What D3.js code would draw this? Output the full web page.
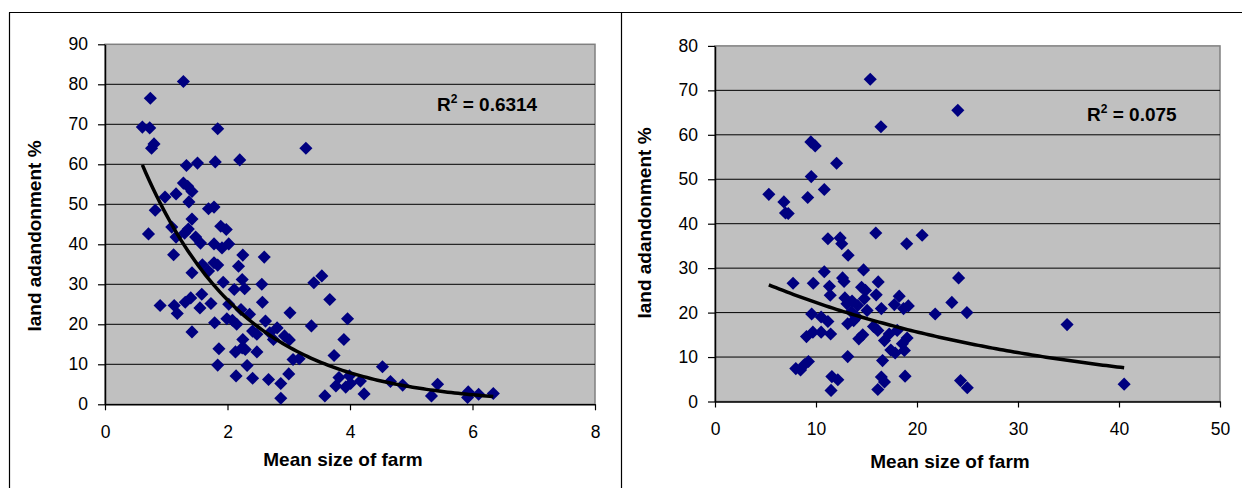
<!DOCTYPE html>
<html>
<head>
<meta charset="utf-8">
<script src="https://cdn.jsdelivr.net/npm/d3@7"></script>
<style>
  body { margin: 0; background: #fff; }
  svg { display: block; font-family: "Liberation Sans", Arial, sans-serif; }
</style>
</head>
<body>
<svg id="chart" width="1242" height="488"></svg>
<script>
// left panel data (mean farm size, % land abandonment)
const farmSizeA = [1.28,0.74,0.61,0.73,1.84,0.80,0.76,3.28,2.20,1.33,
  1.51,1.80,1.28,1.35,1.42,1.16,0.98,1.37,0.82,1.69,
  1.78,1.42,1.89,1.98,1.09,1.36,1.30,0.71,1.16,1.48,
  1.56,1.78,1.91,2.02,1.12,2.25,2.60,1.59,1.78,1.84,
  2.18,1.42,1.69,3.54,3.41,1.93,2.56,2.24,2.11,2.28,
  3.67,1.31,1.40,1.58,0.90,1.13,1.55,1.73,2.57,2.02,
  2.22,1.18,3.02,2.36,3.96,1.99,2.08,2.15,1.79,2.62,
  3.37,1.42,2.81,2.41,2.48,2.69,2.75,3.90,2.93,3.01,
  2.25,2.24,1.86,2.13,2.48,2.29,3.74,3.07,3.17,4.53,
  1.84,2.32,3.00,2.14,2.41,2.67,2.87,3.82,3.99,3.77,
  3.93,4.01,4.17,4.66,4.86,4.23,3.59,2.87,5.43,5.33,
  5.93,5.92,6.10,6.34];
const abandonA = [80.7,76.5,69.3,69.1,68.9,65.1,64.0,64.0,61.1,59.7,
  60.3,60.6,55.3,54.5,53.2,52.6,51.8,50.6,48.5,48.9,
  49.3,46.3,44.5,43.7,44.3,43.8,42.8,42.6,41.8,41.8,
  40.3,40.1,39.1,40.1,37.4,37.3,36.8,34.9,35.4,34.8,
  34.5,32.9,33.3,32.1,30.4,30.5,30.0,31.2,28.7,28.9,
  26.2,25.5,26.6,27.5,24.7,24.7,24.1,25.2,25.5,25.0,
  23.7,22.7,22.9,22.5,21.4,21.4,21.0,20.0,20.4,20.8,
  19.6,18.1,19.1,18.3,17.5,17.9,16.2,16.2,17.1,16.1,
  16.2,14.1,13.9,13.1,13.1,13.7,12.2,11.2,11.4,9.4,
  9.8,9.7,7.6,7.1,6.5,6.2,5.2,6.7,7.1,4.6,
  4.3,5.2,5.8,5.7,4.8,2.6,2.1,1.5,5.0,2.1,
  3.1,1.7,2.5,2.7];

// right panel data
const farmSizeB = [15.37,24.04,16.43,9.49,9.92,12.04,9.53,10.82,5.33,9.18,
  6.82,6.98,7.25,15.92,20.51,11.18,12.39,12.55,18.98,13.18,
  14.71,10.82,24.12,12.63,12.78,7.73,9.73,16.16,11.33,14.51,
  14.90,15.96,11.41,18.24,12.86,14.78,13.57,23.45,13.06,14.12,
  17.76,19.14,18.67,16.47,15.06,24.94,13.49,21.80,9.57,10.51,
  14.04,11.18,13.73,13.14,34.86,15.69,18.04,16.12,9.69,10.51,
  11.45,17.25,9.06,14.63,14.24,19.02,16.78,18.55,17.41,17.84,
  18.75,13.14,16.59,9.25,8.86,8.00,8.47,18.82,11.57,12.16,
  16.47,16.78,16.12,11.49,24.31,24.98,40.51];
const abandonB = [72.5,65.5,61.8,58.4,57.5,53.6,50.6,47.7,46.6,45.9,
  44.9,42.4,42.3,37.9,37.4,36.6,36.8,35.5,35.5,32.9,
  29.6,29.2,27.8,27.8,27.0,26.6,26.6,26.9,25.9,25.7,
  25.0,24.0,23.9,23.7,23.3,23.1,22.6,22.3,22.0,21.6,
  21.8,21.5,20.9,20.9,20.5,20.0,20.2,19.7,19.7,19.0,
  19.0,18.0,18.2,17.5,17.3,16.9,16.0,16.0,15.6,15.6,
  15.2,15.2,14.6,15.0,14.1,14.3,13.7,13.0,11.6,10.9,
  11.5,10.1,9.2,9.0,8.3,7.4,7.1,5.7,5.6,4.9,
  5.5,4.4,2.7,2.5,4.7,3.1,3.9];

const xTicksA = [0, 2, 4, 6, 8];
const yTicksA = [0, 10, 20, 30, 40, 50, 60, 70, 80, 90];
const xTicksB = [0, 10, 20, 30, 40, 50];
const yTicksB = [0, 10, 20, 30, 40, 50, 60, 70, 80];
const r2Labels = ["0.6314", "0.075"];
const xTitle = "Mean size of farm";
const yTitle = "land adandonment %";

const svg = d3.select("#chart");

// outer frames
const frame = svg.append("g").attr("stroke", "#000").attr("stroke-width", 1.2).attr("fill", "none");
frame.append("line").attr("x1", 9).attr("x2", 1242).attr("y1", 12.5).attr("y2", 12.5);
frame.append("line").attr("x1", 9.5).attr("x2", 9.5).attr("y1", 12.5).attr("y2", 488);
frame.append("line").attr("x1", 621.5).attr("x2", 621.5).attr("y1", 12.5).attr("y2", 488);

// exponential trend, least squares on ln(y) like a spreadsheet trendline
function expFit(xs, ys) {
  const ly = ys.map(Math.log);
  const mx = d3.mean(xs), my = d3.mean(ly);
  let sxy = 0, sxx = 0;
  xs.forEach((x, i) => { sxy += (x - mx) * (ly[i] - my); sxx += (x - mx) * (x - mx); });
  const b = sxy / sxx;
  const a = Math.exp(my - b * mx);
  return x => a * Math.exp(b * x);
}

function drawPanel(cfg) {
  const g = svg.append("g");
  const x = d3.scaleLinear().domain(d3.extent(cfg.xTicks)).range([cfg.left, cfg.right]);
  const y = d3.scaleLinear().domain(d3.extent(cfg.yTicks)).range([cfg.bottom, cfg.top]);

  g.append("rect")
    .attr("x", cfg.left).attr("y", cfg.top)
    .attr("width", cfg.right - cfg.left).attr("height", cfg.bottom - cfg.top)
    .attr("fill", "#c0c0c0").attr("stroke", "#808080").attr("stroke-width", 1.5);

  // gridlines
  g.selectAll(".grid")
    .data(cfg.yTicks.slice(1, -1))
    .enter().append("line")
    .attr("x1", cfg.left).attr("x2", cfg.right)
    .attr("y1", d => y(d)).attr("y2", d => y(d))
    .attr("stroke", "#000").attr("stroke-width", 1);

  const yAxis = g.append("g")
    .attr("transform", `translate(${cfg.left},0)`)
    .call(d3.axisLeft(y).tickValues(cfg.yTicks).tickSize(7).tickSizeOuter(0).tickPadding(10));
  const xAxis = g.append("g")
    .attr("transform", `translate(0,${cfg.bottom})`)
    .call(d3.axisBottom(x).tickValues(cfg.xTicks).tickSize(6).tickSizeOuter(0).tickPadding(15));
  [yAxis, xAxis].forEach(ax => {
    ax.select(".domain").attr("stroke", "#000").attr("stroke-width", 1.5);
    ax.selectAll(".tick line").attr("stroke", "#000").attr("stroke-width", 1.2);
    ax.selectAll("text").attr("font-size", 17.5).attr("fill", "#000")
      .attr("font-family", "'Liberation Sans', Arial, sans-serif");
  });

  // diamond markers
  const pts = cfg.xs.map((v, i) => [v, cfg.ys[i]]);
  const diamond = d3.symbol().type(d3.symbolSquare).size(86);
  g.selectAll(".pt")
    .data(pts)
    .enter().append("path")
    .attr("d", diamond)
    .attr("transform", d => `translate(${x(d[0])},${y(d[1])}) rotate(45)`)
    .attr("fill", "#000080");

  // trendline
  const f = expFit(cfg.xs, cfg.ys);
  const [x0, x1] = d3.extent(cfg.xs);
  const trend = d3.range(0, 101).map(i => x0 + (x1 - x0) * i / 100);
  g.append("path")
    .datum(trend)
    .attr("d", d3.line().x(d => x(d)).y(d => y(f(d))))
    .attr("fill", "none").attr("stroke", "#000").attr("stroke-width", 3.5);

  // R squared label
  const r2 = g.append("text")
    .attr("x", cfg.r2x).attr("y", cfg.r2y)
    .attr("font-size", 19).attr("font-weight", "bold");
  r2.append("tspan").text("R");
  r2.append("tspan").attr("font-size", 12).attr("dy", -8).text("2");
  r2.append("tspan").attr("dy", 8).text(" = " + cfg.r2);

  // titles
  g.append("text")
    .attr("x", cfg.xTitleX).attr("y", cfg.xTitleY)
    .attr("text-anchor", "middle").attr("font-size", 19).attr("font-weight", "bold")
    .text(xTitle);
  g.append("text")
    .attr("transform", `translate(${cfg.yTitleX},${cfg.yTitleY}) rotate(-90)`)
    .attr("text-anchor", "middle").attr("font-size", 19).attr("font-weight", "bold")
    .text(yTitle);
}

drawPanel({
  xs: farmSizeA, ys: abandonA, xTicks: xTicksA, yTicks: yTicksA,
  left: 105, right: 595, top: 44.3, bottom: 404.3,
  r2: r2Labels[0], r2x: 437, r2y: 111,
  xTitleX: 343, xTitleY: 466, yTitleX: 41, yTitleY: 236
});

drawPanel({
  xs: farmSizeB, ys: abandonB, xTicks: xTicksB, yTicks: yTicksB,
  left: 715, right: 1220, top: 45.9, bottom: 401.5,
  r2: r2Labels[1], r2x: 1087, r2y: 121,
  xTitleX: 950, xTitleY: 468, yTitleX: 651, yTitleY: 223
});
</script>
</body>
</html>
